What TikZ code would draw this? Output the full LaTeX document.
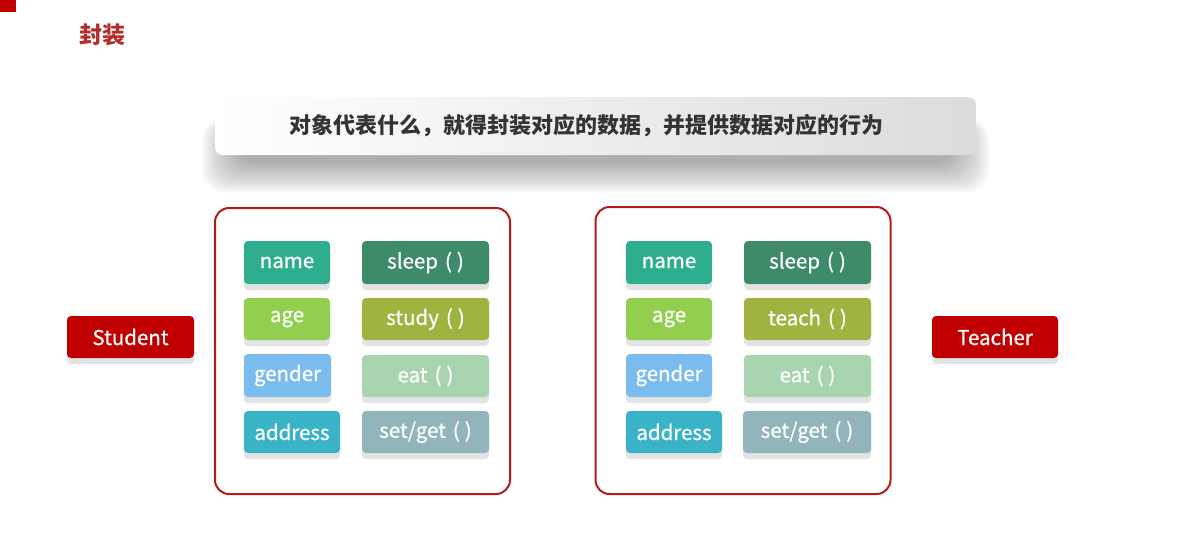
\documentclass[tikz,border=0pt]{standalone}
\usepackage{fontspec}
\setmainfont{Noto Sans CJK SC}
\newfontfamily\chipfont[FakeBold=0.6]{Noto Sans CJK SC}
\usetikzlibrary{shadows}
\definecolor{cname}{HTML}{2EAE8C}
\definecolor{csleep}{HTML}{3E8B6A}
\definecolor{cage}{HTML}{92CF4F}
\definecolor{cstudy}{HTML}{9DB540}
\definecolor{cgender}{HTML}{7BBCEE}
\definecolor{ceat}{HTML}{A8D5B0}
\definecolor{caddr}{HTML}{3AB3C8}
\definecolor{cset}{HTML}{92B5BC}
\definecolor{cred}{HTML}{C00000}
\definecolor{cborder}{HTML}{B51A1A}
\definecolor{ctitle}{HTML}{B22E2E}
\definecolor{ctext}{HTML}{333333}
\newcommand{\paren}{\hspace{7pt}(\hspace{5pt})}
\tikzset{
  chip/.style={rounded corners=4pt, text=white, inner sep=0pt,
    font=\chipfont\fontsize{20.5}{24}\selectfont, minimum height=43pt,
    drop shadow={shadow xshift=0pt, shadow yshift=-6pt, fill=black!11, opacity=1}},
  cls/.style={chip, fill=cred, minimum width=127pt, minimum height=42pt},
  outerbox/.style={draw=cborder, line width=2pt, rounded corners=14pt,
    minimum width=295pt, minimum height=286pt, fill=white},
}
\begin{document}
\begin{tikzpicture}[x=1pt,y=-1pt]
\useasboundingbox (0,0) rectangle (1193,536);
% corner mark
\fill[cred] (0,0) rectangle (16,12);
% title
\node[text=ctitle, font=\fontsize{23}{26}\selectfont\bfseries] (title) at (102,35) {封装};
% banner shadow
\foreach \i in {1,...,24}{
  \fill[black, opacity=0.017, rounded corners=22pt] (200+\i*1.5,118) rectangle (991-\i*1.5,194-\i*1.3);
}
\shade[rounded corners=8pt, left color=white, right color=black!14] (215,97) rectangle (976,155);
\node[text=ctext, font=\fontsize{22}{25}\selectfont\bfseries] (banner) at (586.5,126)
  {对象代表什么，就得封装对应的数据，并提供数据对应的行为};
% outer boxes
\node[outerbox] (L) at (362.5,351) {};
\node[outerbox, minimum height=287pt] (R) at (743,350.5) {};
% class labels
\node[cls] (student) at (130.5,337) {Student};
\node[cls, minimum width=126pt] (teacher) at (995,337) {Teacher};
% left chips
\node[chip, fill=cname, minimum width=86pt] (lname) at (287,262.5) {name};
\node[chip, fill=csleep, minimum width=127pt] (lsleep) at (425.5,262.5) {sleep\paren};
\node[chip, fill=cage, minimum width=86pt, minimum height=42pt] (lage) at (287,319) {age};
\node[chip, fill=cstudy, minimum width=127pt, minimum height=42pt] (lstudy) at (425.5,319) {study\paren};
\node[chip, fill=cgender, minimum width=87pt] (lgender) at (287.5,375.5) {gender};
\node[chip, fill=ceat, minimum width=127pt, minimum height=42pt] (leat) at (425.5,376) {eat\paren};
\node[chip, fill=caddr, minimum width=96pt, minimum height=42pt] (laddr) at (292,432) {address};
\node[chip, fill=cset, minimum width=127pt, minimum height=42pt] (lset) at (425.5,432) {set/get\paren};
% right chips
\node[chip, fill=cname, minimum width=86pt] (rname) at (669,262.5) {name};
\node[chip, fill=csleep, minimum width=127pt] (rsleep) at (807.5,262.5) {sleep\paren};
\node[chip, fill=cage, minimum width=86pt, minimum height=42pt] (rage) at (669,319) {age};
\node[chip, fill=cstudy, minimum width=127pt, minimum height=42pt] (rteach) at (807.5,319) {teach\paren};
\node[chip, fill=cgender, minimum width=86pt] (rgender) at (669,375.5) {gender};
\node[chip, fill=ceat, minimum width=127pt, minimum height=42pt] (reat) at (807.5,376) {eat\paren};
\node[chip, fill=caddr, minimum width=96pt, minimum height=42pt] (raddr) at (674,432) {address};
\node[chip, fill=cset, minimum width=128pt, minimum height=42pt] (rset) at (807,432) {set/get\paren};
\end{tikzpicture}
\end{document}
